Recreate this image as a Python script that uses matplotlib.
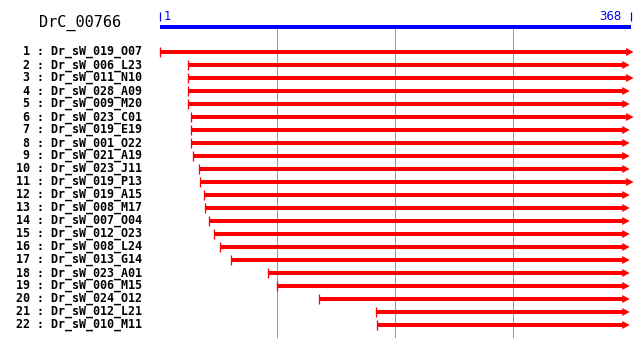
import matplotlib
matplotlib.use("Agg")
import matplotlib.pyplot as plt
from matplotlib.patches import Polygon

# ---------------- data ----------------
title = "DrC_00766"
seq_start = 1
seq_len = 368
clones = ["Dr_sW_019_O07", "Dr_sW_006_L23", "Dr_sW_011_N10", "Dr_sW_028_A09",
          "Dr_sW_009_M20", "Dr_sW_023_C01", "Dr_sW_019_E19", "Dr_sW_001_O22",
          "Dr_sW_021_A19", "Dr_sW_023_J11", "Dr_sW_019_P13", "Dr_sW_019_A15",
          "Dr_sW_008_M17", "Dr_sW_007_O04", "Dr_sW_012_O23", "Dr_sW_008_L24",
          "Dr_sW_013_G14", "Dr_sW_023_A01", "Dr_sW_006_M15", "Dr_sW_024_O12",
          "Dr_sW_012_L21", "Dr_sW_010_M11"]
starts = [1, 23, 23, 23, 23, 25, 25, 25, 27, 31, 32, 35, 36, 39, 43, 48,
          56, 85, 92, 125, 169, 170]
ends = [370, 367, 370, 367, 367, 370, 367, 367, 367, 367, 370, 367, 367,
        367, 367, 367, 367, 367, 367, 367, 367, 367]
grid_positions = [92, 184, 276]

# ---------------- layout helpers ----------------
W, H = 640, 346
k = 471 / 367.0          # pixels per residue
x0_px = 160.0            # pixel of residue 1
row1_px, row_step = 52.0, 13.0

def xr(px):  # pixel -> residue coordinate
    return seq_start + (px - x0_px) / k

def yr(py):  # pixel -> row coordinate
    return 1 + (py - row1_px) / row_step

fig = plt.figure(figsize=(W / 100, H / 100), dpi=100)
ax = fig.add_axes([0, 0, 1, 1])
ax.set_xlim(xr(0), xr(W))
ax.set_ylim(yr(H), yr(0))
ax.axis("off")

PX = 72 / 100.0  # points per pixel

# gridlines
for g in grid_positions:
    ax.plot([g, g], [yr(29), yr(337)], color="#999999", lw=1.0 * PX,
            solid_capstyle="butt", zorder=1, antialiased=False)

# blue sequence bar
ax.plot([seq_start, seq_len], [yr(27), yr(27)], color="#0000ff", lw=4 * PX,
        solid_capstyle="butt", zorder=2, antialiased=False)
for p in (seq_start, seq_len):
    ax.plot([p, p], [yr(11.5), yr(20.5)], color="#0000ff", lw=1.2 * PX,
            solid_capstyle="butt")
ax.text(xr(164), yr(16), str(seq_start), color="#0000ff", fontsize=8.5,
        family="DejaVu Sans", ha="left", va="center")
ax.text(xr(621), yr(16), str(seq_len), color="#0000ff", fontsize=8.5,
        family="DejaVu Sans", ha="right", va="center")

# title
ax.text(xr(80), yr(23), title, fontsize=11, family="DejaVu Sans Mono",
        ha="center", va="center", color="black")

head_len = 7.5 / k               # in residues
head_half = 4.0 / row_step       # in rows

for i, (name, s, e) in enumerate(zip(clones, starts, ends), start=1):
    ax.plot([s, e - head_len + 0.3], [i, i], color="#ff0000", lw=4 * PX,
            solid_capstyle="butt", zorder=3, antialiased=False)
    ax.add_patch(Polygon([(e, i), (e - head_len, i - head_half),
                          (e - head_len, i + head_half)], closed=True,
                         facecolor="#ff0000", edgecolor="none", zorder=4))
    ax.plot([s], [i], marker="|", ms=9.5 * PX, mew=1.3 * PX, color="#ff0000",
            zorder=4)
    ax.text(xr(142), i, f"{i:2d} : {name}", fontsize=8.4,
            family="DejaVu Sans Mono", fontweight="bold", ha="right",
            va="center", color="black")

fig.savefig("out.png", dpi=100)
